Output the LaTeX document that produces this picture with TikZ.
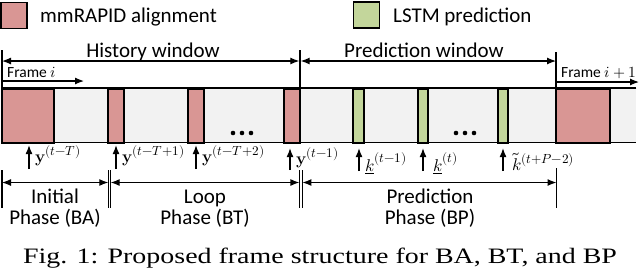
\documentclass[tikz,border=0pt]{standalone}
\usepackage{fontspec}
\usepackage{unicode-math}
\setsansfont{Carlito}
\newfontfamily\capfont[FakeStretch=1.27]{Liberation Serif}
\DeclareMathSizes{17}{17}{13.2}{10}
\usetikzlibrary{arrows.meta}
\definecolor{pinkb}{HTML}{D99694}
\definecolor{greenb}{HTML}{C3D69B}
\definecolor{barbg}{HTML}{F2F2F2}
\begin{document}
\begin{tikzpicture}[x=1pt,y=-1pt,
  lbl/.style={font=\sffamily\fontsize{21}{21}\selectfont, inner sep=0pt},
  small/.style={font=\sffamily\fontsize{15.5}{15.5}\selectfont, inner sep=0pt},
  mlab/.style={font=\fontsize{17}{17}\selectfont, inner sep=0pt, anchor=base west},
  blk/.style={draw=black, line width=1.6pt, minimum height=54pt, inner sep=0pt, anchor=north},
  pblk/.style={blk, fill=pinkb},
  gblk/.style={blk, fill=greenb},
  legbox/.style={draw=black, line width=1.5pt, minimum width=26pt, minimum height=26pt, inner sep=0pt},
  barline/.style={line width=1.6pt},
  tick/.style={line width=1.2pt},
  dbl/.style={line width=1.2pt, {Latex[length=9pt,width=7pt]}-{Latex[length=9pt,width=7pt]}},
  rarr/.style={line width=1.2pt, -{Latex[length=9pt,width=7pt]}},
  uparr/.style={line width=1.2pt, -{Latex[length=9pt,width=7pt]}, shorten >=1.5pt},
  dotn/.style={circle, fill=black, inner sep=0pt, minimum size=4.6pt},
  capt/.style={font=\capfont\fontsize{22}{22}\selectfont, inner sep=0pt}
]
\useasboundingbox (0,0) rectangle (640,269);

% legend
\node[legbox, fill=pinkb] (legp) at (14,15.5) {};
\node[lbl, anchor=base west] (legpt) at (40,22) {mmRAPID alignment};
\node[legbox, fill=greenb] (legg) at (366.5,15) {};
\node[lbl, anchor=base west] (leggt) at (393,22) {LSTM prediction};

% bar
\node[fill=barbg, draw=none, inner sep=0pt, minimum width=634pt, minimum height=54pt, anchor=north west] (bar) at (2,88) {};
\draw[barline] (bar.north east) -- (bar.north west) -- (bar.south west) -- (bar.south east);

% blocks
\node[pblk, minimum width=52pt] (b1) at (28,88) {};
\node[pblk, minimum width=16pt] (b2) at (116,88) {};
\node[pblk, minimum width=16pt] (b3) at (196,88) {};
\node[pblk, minimum width=16pt] (b4) at (292,88) {};
\node[gblk, minimum width=11pt] (g1) at (358.5,88) {};
\node[gblk, minimum width=10pt] (g2) at (423,88) {};
\node[gblk, minimum width=10pt] (g3) at (503,88) {};
\node[pblk, minimum width=54pt] (b5) at (583,88) {};

% dots
\node[dotn] (d1) at (233,133) {};
\node[dotn] (d2) at (242,133) {};
\node[dotn] (d3) at (251,133) {};
\node[dotn] (d4) at (456,133) {};
\node[dotn] (d5) at (465,133) {};
\node[dotn] (d6) at (474,133) {};

% window markers
\coordinate (w0t) at (2,50);   \coordinate (w0b) at (2,88);
\coordinate (w1t) at (300,50); \coordinate (w1b) at (300,88);
\coordinate (w2t) at (556,52); \coordinate (w2b) at (556,88);
\draw[tick] (w0t) -- (w0b);
\draw[tick] (w1t) -- (w1b);
\draw[tick] (w2t) -- (w2b);
\coordinate (hA) at (2,61);   \coordinate (hB) at (299.3,61);
\coordinate (pA) at (300.7,61); \coordinate (pB) at (556,61);
\draw[dbl] (hA) -- (hB);
\draw[dbl] (pA) -- (pB);
\node[lbl, anchor=base] (hw) at (153,57) {History window};
\node[lbl, anchor=base] (pw) at (424,57) {Prediction window};

% frames
\coordinate (fA) at (2,81);   \coordinate (fB) at (84,81);
\coordinate (fC) at (556,82); \coordinate (fD) at (639,82);
\draw[rarr] (fA) -- (fB);
\draw[rarr] (fC) -- (fD);
\node[small, anchor=base west] (fi) at (7,77) {Frame $i$};
\node[small, anchor=base west] (fi1) at (561,77) {Frame $i+1$};

% up arrows
\coordinate (u1) at (29,169);
\coordinate (u2) at (116,169);
\coordinate (u3) at (196,169);
\coordinate (u4) at (290,170);
\coordinate (u5) at (359,171);
\coordinate (u6) at (423,171);
\coordinate (u7) at (503,171);
\draw[uparr] (u1) -- (u1 |- b1.south);
\draw[uparr] (u2) -- (u2 |- b2.south);
\draw[uparr] (u3) -- (u3 |- b3.south);
\draw[uparr] (u4) -- ([yshift=-3pt]u4 |- b4.south);
\draw[uparr] (u5) -- ([yshift=-3pt]u5 |- g1.south);
\draw[uparr] (u6) -- ([yshift=-3pt]u6 |- g2.south);
\draw[uparr] (u7) -- ([yshift=-3pt]u7 |- g3.south);
\node[mlab] (l1) at (35,162) {$\mathbf{y}^{(t-T)}$};
\node[mlab] (l2) at (122,162) {$\mathbf{y}^{(t-T+1)}$};
\node[mlab] (l3) at (202,162) {$\mathbf{y}^{(t-T+2)}$};
\node[mlab] (l4) at (296,164) {$\mathbf{y}^{(t-1)}$};
\node[mlab] (l5) at (365,171) {$\underline{k}^{(t-1)}$};
\node[mlab] (l6) at (433,171) {$\underline{k}^{(t)}$};
\node[mlab] (l7) at (512,170) {$\tilde{k}^{(t+P-2)}$};

% phase markers
\coordinate (q0t) at (2,170);     \coordinate (q0b) at (2,208);
\coordinate (q1t) at (108.3,170); \coordinate (q1b) at (108.3,208);
\coordinate (q2t) at (110.6,170); \coordinate (q2b) at (110.6,208);
\coordinate (q3t) at (299.4,170); \coordinate (q3b) at (299.4,208);
\coordinate (q4t) at (302.4,170); \coordinate (q4b) at (302.4,208);
\coordinate (q5t) at (556.5,168); \coordinate (q5b) at (556.5,208);
\foreach \q in {0,...,5} {\draw[tick] (q\q t) -- (q\q b);}
\coordinate (r0) at (2,182.5);     \coordinate (r1) at (108.3,182.5);
\coordinate (r2) at (110.6,182.5); \coordinate (r3) at (299.4,182.5);
\coordinate (r4) at (302.4,182.5); \coordinate (r5) at (556.5,182.5);
\draw[dbl] (r0) -- (r1);
\draw[dbl] (r2) -- (r3);
\draw[dbl] (r4) -- (r5);
\node[lbl, anchor=base] (pa1) at (55,203) {Initial};
\node[lbl, anchor=base] (pa2) at (55,224) {Phase (BA)};
\node[lbl, anchor=base] (pb1) at (205,203) {Loop};
\node[lbl, anchor=base] (pb2) at (205,224) {Phase (BT)};
\node[lbl, anchor=base] (pc1) at (430,203) {Prediction};
\node[lbl, anchor=base] (pc2) at (430,224) {Phase (BP)};

% caption
\node[capt, anchor=base] (cap) at (320,263) {Fig. 1: Proposed frame structure for BA, BT, and BP};
\end{tikzpicture}
\end{document}
